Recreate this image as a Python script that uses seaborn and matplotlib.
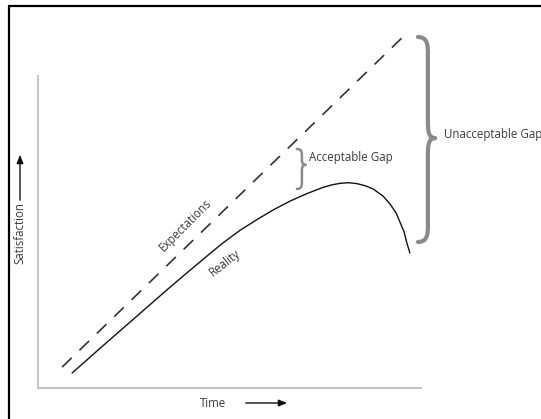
import numpy as np
import pandas as pd
import matplotlib
matplotlib.use('Agg')
import matplotlib.pyplot as plt
from matplotlib.path import Path
from matplotlib.patches import PathPatch
from matplotlib.lines import Line2D
from matplotlib.text import Annotation
import seaborn as sns

# Data (time / satisfaction units 0-10)
exp_time = [0.63, 9.66]
exp_level = [0.67, 11.41]

real_time = [0.89, 1.72, 2.56, 3.39, 3.81, 4.23, 4.53, 4.83, 5.27, 5.72, 6.16, 6.58, 7.02,
             7.44, 7.67, 7.89, 8.11, 8.33, 8.55, 8.75, 9.01, 9.19, 9.35, 9.45, 9.56, 9.63, 9.71]
real_level = [0.48, 1.38, 2.28, 3.17, 3.61, 4.04, 4.35, 4.65, 5.05, 5.40, 5.72, 5.99, 6.23,
              6.43, 6.51, 6.56, 6.58, 6.55, 6.48, 6.38, 6.15, 5.90, 5.61, 5.32, 5.00, 4.65, 4.33]

expectations = pd.DataFrame({'Time': exp_time, 'Satisfaction': exp_level})
reality = pd.DataFrame({'Time': real_time, 'Satisfaction': real_level})

sns.set_style('white')
plt.rcParams['font.family'] = ['Open Sans', 'DejaVu Sans']

W, H = 541, 419
fig = plt.figure(figsize=(W / 100, H / 100), dpi=100)
ax = fig.add_axes([38 / W, 31 / H, 383 / W, 312 / H])

sns.lineplot(data=expectations, x='Time', y='Satisfaction', ax=ax, color='#333333',
             linewidth=1.2, linestyle=(0, (8, 6.5)), clip_on=False)
sns.lineplot(data=reality, x='Time', y='Satisfaction', ax=ax, color='#111111',
             linewidth=1.0, clip_on=False)

ax.set_xlim(0, 10)
ax.set_ylim(0, 10)
ax.set_xticks([])
ax.set_yticks([])
ax.set_xlabel('')
ax.set_ylabel('')
sns.despine(ax=ax)
for s in ['left', 'bottom']:
    ax.spines[s].set_color('#c4c4c4')
    ax.spines[s].set_linewidth(1.5)


def brace(ax, xend, xbody, xtip, ytop, ybot, ymid, curl, **kw):
    verts = [(xend, ytop),
             (xbody, ytop), (xbody, ytop - curl), (xbody, ytop - 2 * curl),
             (xbody, ymid + 2 * curl),
             (xbody, ymid + curl), (xbody, ymid), (xtip, ymid),
             (xbody, ymid), (xbody, ymid - curl), (xbody, ymid - 2 * curl),
             (xbody, ybot + 2 * curl),
             (xbody, ybot + curl), (xbody, ybot), (xend, ybot)]
    codes = ([Path.MOVETO] + [Path.CURVE4] * 3 + [Path.LINETO] + [Path.CURVE4] * 3
             + [Path.CURVE4] * 3 + [Path.LINETO] + [Path.CURVE4] * 3)
    ax.add_patch(PathPatch(Path(verts, codes), fill=False, clip_on=False,
                           capstyle='round', joinstyle='round', **kw))


# braces
brace(ax, 9.92, 10.18, 10.37, 11.25, 4.68, 8.01, 0.28, edgecolor='#8a8a8a', linewidth=3.0)
brace(ax, 6.76, 6.89, 6.99, 7.66, 6.38, 7.15, 0.11, edgecolor='#8a8a8a', linewidth=1.8)

txt = '#3a3a3a'
ax.text(10.60, 8.14, 'Unacceptable Gap', ha='left', va='center', fontsize=8.3, color=txt, clip_on=False)
ax.text(7.08, 7.38, 'Acceptable Gap', ha='left', va='center', fontsize=8.3, color=txt)
ax.text(3.84, 5.22, 'Expectations', ha='center', va='center', fontsize=8.3, color=txt, rotation=45)
ax.text(4.88, 4.01, 'Reality', ha='center', va='center', fontsize=8.3, color=txt, rotation=38)

# axis labels with arrows
fig.text(20 / W, 1 - 233 / H, 'Satisfaction', rotation=90, ha='center', va='center', fontsize=8.3, color=txt)
fig.text(213 / W, 1 - 403 / H, 'Time', ha='center', va='center', fontsize=8.3, color=txt)
arrow = dict(arrowstyle='-|>,head_length=0.5,head_width=0.2', color='#111111', lw=1.0)
fig.add_artist(Annotation('', xy=(20 / W, 1 - 152 / H), xytext=(20 / W, 1 - 203 / H),
                          xycoords='figure fraction', arrowprops=arrow))
fig.add_artist(Annotation('', xy=(290 / W, 1 - 403 / H), xytext=(243 / W, 1 - 403 / H),
                          xycoords='figure fraction', arrowprops=arrow))

# outer frame (left and top edges visible)
fig.add_artist(Line2D([9 / W, 9 / W], [0, 1 - 6 / H], color='black', linewidth=1.6))
fig.add_artist(Line2D([9 / W, 1], [1 - 6 / H, 1 - 6 / H], color='black', linewidth=1.6))

fig.savefig('out.png', dpi=100)
